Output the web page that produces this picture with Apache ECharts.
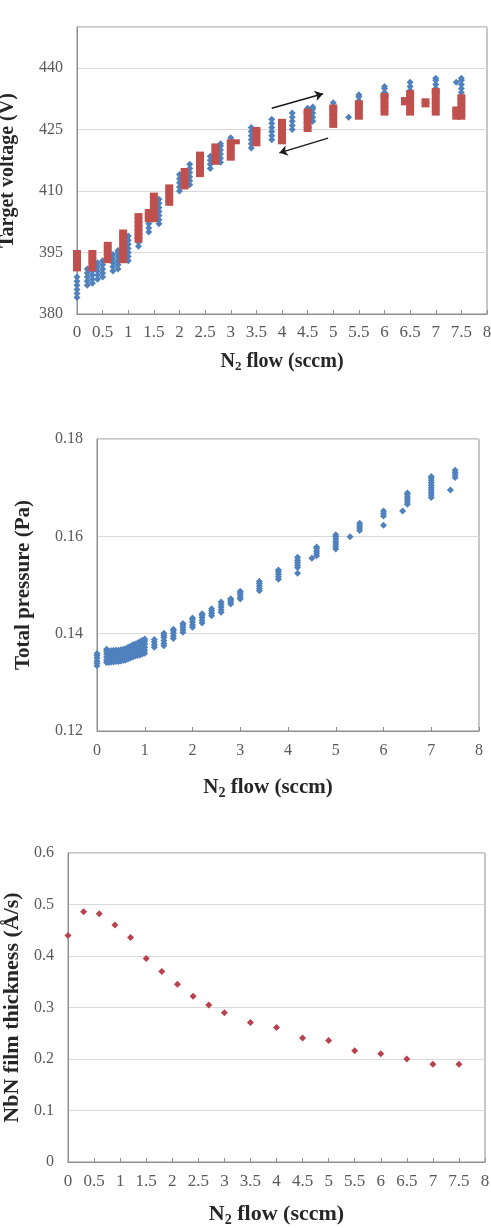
<!DOCTYPE html>
<html>
<head>
<meta charset="utf-8">
<script src="https://cdn.jsdelivr.net/npm/echarts@6/dist/echarts.min.js"></script>
<style>
  html, body { margin: 0; padding: 0; background: #fff; }
  #chart { width: 491px; height: 1228px; }
</style>
</head>
<body>
<div id="chart"></div>
<script>
// top panel: target voltage, blue = increasing flow, red = decreasing flow
const voltUpFlow = [0, 0.2, 0.3, 0.4, 0.5, 0.7, 0.8, 1.0, 1.2, 1.4, 1.6, 2.0, 2.2, 2.6, 2.8, 3.0, 3.4, 3.8, 4.2, 4.5, 4.6, 5.0, 5.3, 5.5, 6.0, 6.5, 7.0, 7.4, 7.5];
const voltUp = [
  [384, 385, 386, 387, 388, 389],
  [387, 388, 389, 390, 391],
  [387.5, 388.5, 389.5, 390.5, 391.5],
  [388.5, 389.5, 390.5, 391.5, 392.5],
  [389, 390, 391, 392, 393],
  [390.5, 391.5, 392.5, 393.5, 394.5],
  [391, 392, 393, 394, 395, 395.5],
  [393, 394, 395, 396, 397, 398, 399],
  [396.5, 397.5],
  [400, 401, 402, 403, 404],
  [402, 403, 404, 405, 406, 407, 408],
  [410, 411, 412, 413, 414],
  [411.5, 412.5, 413.5, 414.5, 415.5, 416.5],
  [415.5, 416.5, 417.5, 418.5],
  [417, 418, 419, 420, 421, 421.5],
  [423],
  [420.5, 421.5, 422.5, 423.5, 424.5, 425.5],
  [422.5, 423.5, 424.5, 425.5, 426.5, 427.5],
  [425, 426, 427, 428, 429],
  [429.5, 430.2],
  [427, 428, 429, 430, 430.5],
  [431.5],
  [428],
  [432, 433, 433.5],
  [434, 435, 435.5],
  [434.5, 435.5, 436.5],
  [435, 436, 437, 437.5],
  [436.5],
  [434, 435, 436, 437, 437.5]
];
const voltDownFlow = [0, 0.3, 0.6, 0.9, 1.2, 1.4, 1.5, 1.8, 2.1, 2.4, 2.7, 3.0, 3.1, 3.5, 4.0, 4.5, 5.0, 5.5, 6.0, 6.4, 6.5, 6.8, 7.0, 7.4, 7.5];
const voltDown = [
  [391, 392, 393, 394, 395],
  [391, 392, 393, 394, 395],
  [393, 394, 395, 396, 397],
  [393, 394, 395, 396, 397, 398, 399, 400],
  [398, 399, 400, 401, 402, 403, 404],
  [403, 404, 405],
  [403, 404, 405, 406, 407, 408, 409],
  [407, 408, 409, 410, 411],
  [411, 412, 413, 414, 415],
  [414, 415, 416, 417, 418, 419],
  [417, 418, 419, 420, 421],
  [418, 419, 420, 421, 422],
  [422],
  [421.5, 422.5, 423.5, 424.5, 425],
  [422, 423, 424, 425, 426, 427],
  [425, 426, 427, 428, 429, 429.5],
  [426, 427, 428, 429, 430, 430.5],
  [428, 429, 430, 431, 431.5],
  [429, 430, 431, 432, 433, 433.3],
  [431.5, 432.3],
  [429, 430, 431, 432, 433, 434],
  [431, 432],
  [429, 430, 431, 432, 433, 434, 434.5],
  [428, 429, 430],
  [428, 429, 430, 431, 432, 433]
];
// hysteresis arrows [from, to] in (flow, voltage)
const arrowPaths = [
  [[3.8, 430.2], [4.8, 433.7]],
  [[4.9, 422.9], [3.95, 419.3]]
];

// middle panel: total pressure
const pressFlow = [0, 0.2, 0.25, 0.3, 0.35, 0.4, 0.45, 0.5, 0.55, 0.6, 0.65, 0.7, 0.75, 0.8, 0.85, 0.9, 0.95, 1.0,
  1.2, 1.4, 1.6, 1.8, 2.0, 2.2, 2.4, 2.6, 2.8, 3.0, 3.4, 3.8, 4.2, 4.5, 4.6, 5.0, 5.3, 5.5, 6.0, 6.4, 6.5, 7.0, 7.4, 7.5];
const pressVals = [
  [0.1334, 0.1339, 0.1344, 0.1350, 0.1355, 0.1359],
  [0.1341, 0.1346, 0.1352, 0.1358, 0.1364, 0.1368],
  [0.1341, 0.1347, 0.1353, 0.1359, 0.1365],
  [0.1342, 0.1347, 0.1353, 0.1359, 0.1365],
  [0.1342, 0.1348, 0.1354, 0.1360, 0.1366],
  [0.1343, 0.1348, 0.1354, 0.1360, 0.1366],
  [0.1343, 0.1349, 0.1355, 0.1361, 0.1366],
  [0.1344, 0.1350, 0.1356, 0.1362, 0.1367],
  [0.1345, 0.1351, 0.1357, 0.1363, 0.1368],
  [0.1346, 0.1352, 0.1358, 0.1364, 0.1369],
  [0.1348, 0.1354, 0.1360, 0.1366, 0.1372],
  [0.1350, 0.1356, 0.1362, 0.1368, 0.1374],
  [0.1352, 0.1358, 0.1364, 0.1370, 0.1377],
  [0.1354, 0.1360, 0.1366, 0.1372, 0.1379],
  [0.1355, 0.1361, 0.1367, 0.1374, 0.1381],
  [0.1356, 0.1362, 0.1369, 0.1376, 0.1384],
  [0.1358, 0.1364, 0.1371, 0.1378, 0.1386],
  [0.1360, 0.1366, 0.1372, 0.1379, 0.1385, 0.1389],
  [0.1372, 0.1377, 0.1383, 0.1388],
  [0.1375, 0.1380, 0.1386, 0.1392, 0.1397, 0.1401],
  [0.1390, 0.1395, 0.1401, 0.1406, 0.1409],
  [0.1403, 0.1408, 0.1413, 0.1418, 0.1421],
  [0.1413, 0.1418, 0.1424, 0.1429, 0.1432],
  [0.1422, 0.1427, 0.1433, 0.1438, 0.1441],
  [0.1437, 0.1442, 0.1447, 0.1451],
  [0.1444, 0.1449, 0.1455, 0.1460, 0.1465],
  [0.1461, 0.1465, 0.1469, 0.1472],
  [0.1471, 0.1475, 0.1480, 0.1484, 0.1487],
  [0.1488, 0.1493, 0.1498, 0.1503, 0.1507],
  [0.1512, 0.1517, 0.1522, 0.1527, 0.1531],
  [0.1524, 0.1536, 0.1541, 0.1546, 0.1551, 0.1557],
  [0.1555],
  [0.1560, 0.1565, 0.1570, 0.1575, 0.1578],
  [0.1574, 0.1579, 0.1584, 0.1589, 0.1594, 0.1599, 0.1603],
  [0.1599],
  [0.1612, 0.1617, 0.1622, 0.1627],
  [0.1623, 0.1642, 0.1647, 0.1652],
  [0.1652],
  [0.1666, 0.1671, 0.1676, 0.1681, 0.1686, 0.1689],
  [0.1680, 0.1685, 0.1690, 0.1695, 0.1700, 0.1705, 0.1710, 0.1715, 0.1720, 0.1723],
  [0.1695],
  [0.1721, 0.1726, 0.1731, 0.1736]
];

// bottom panel: deposition rate
const rateFlow = [0, 0.3, 0.6, 0.9, 1.2, 1.5, 1.8, 2.1, 2.4, 2.7, 3.0, 3.5, 4.0, 4.5, 5.0, 5.5, 6.0, 6.5, 7.0, 7.5];
const rateVals = [0.440, 0.486, 0.482, 0.460, 0.436, 0.395, 0.370, 0.345, 0.322, 0.305, 0.290, 0.271, 0.261, 0.241, 0.236, 0.216, 0.210, 0.200, 0.190, 0.190];

const serif = '"Liberation Serif", "DejaVu Serif", serif';
const tickColor = '#595959';
const frame = '#8f8f8f';
const blue = '#4f81bd';
const red = '#c0504d';

const toPairs = (xs, groups) => xs.flatMap((x, i) => groups[i].map((v) => [x, v]));

const flowName = (size) => ({
  name: '{n|N}{s|2}{n| flow (sccm)}',
  nameLocation: 'middle',
  nameTextStyle: {
    rich: {
      n: { fontFamily: serif, fontWeight: 'bold', fontSize: size, color: '#262626' },
      s: { fontFamily: serif, fontWeight: 'bold', fontSize: Math.round(size * 0.65), color: '#262626', padding: [Math.round(size * 0.5), 0, 0, 0] }
    }
  }
});

const xAxisBase = (idx, interval, gap, size, labelSize) => ({
  type: 'value',
  gridIndex: idx,
  min: 0,
  max: 8,
  interval,
  nameGap: gap,
  ...flowName(size),
  axisLine: { show: true, lineStyle: { color: frame } },
  axisTick: { show: true, inside: true, length: 4, lineStyle: { color: frame } },
  splitLine: { show: false },
  axisLabel: { fontFamily: serif, fontSize: labelSize, color: tickColor, margin: 10 }
});

const yAxisBase = (idx, min, max, interval, name, gap, size) => ({
  type: 'value',
  gridIndex: idx,
  min,
  max,
  interval,
  name,
  nameLocation: 'middle',
  nameGap: gap,
  nameTextStyle: { fontFamily: serif, fontWeight: 'bold', fontSize: size, color: '#262626' },
  axisLine: { show: true, lineStyle: { color: frame } },
  axisTick: { show: false },
  splitLine: { show: true, lineStyle: { color: '#d9d9d9' } },
  axisLabel: { fontFamily: serif, fontSize: 16, color: tickColor, margin: 14 }
});

const chart = echarts.init(document.getElementById('chart'));

const topX = xAxisBase(0, 0.5, 36, 20, 17);
const midX = xAxisBase(1, 1, 44, 21, 16);
midX.nameTextStyle.padding = [0, 40, 0, 0];
midX.axisLabel.margin = 12;
const botX = xAxisBase(2, 0.5, 40, 22, 17);
botX.axisLabel.margin = 11;

const topY = yAxisBase(0, 380, 450, 15, 'Target voltage (V)', 59, 20);
topY.axisLabel.showMaxLabel = false;
const midY = yAxisBase(1, 0.12, 0.18, 0.02, 'Total pressure (Pa)', 63, 21);
const botY = yAxisBase(2, 0, 0.6, 0.1, 'NbN film thickness (Å/s)', 44, 22);

const gridBox = { show: true, borderColor: frame, borderWidth: 1, outerBoundsMode: 'none', containLabel: false };

chart.setOption({
  animation: false,
  backgroundColor: '#fff',
  grid: [
    { ...gridBox, left: 77, top: 27, width: 410, height: 287 },
    { ...gridBox, left: 97, top: 439, width: 382, height: 292 },
    { ...gridBox, left: 68, top: 853, width: 417, height: 309 }
  ],
  xAxis: [topX, midX, botX],
  yAxis: [topY, midY, botY],
  series: [
    {
      name: 'Increasing flow',
      type: 'scatter',
      xAxisIndex: 0,
      yAxisIndex: 0,
      symbol: 'diamond',
      symbolSize: [7, 7],
      itemStyle: { color: blue, opacity: 1 },
      data: toPairs(voltUpFlow, voltUp)
    },
    {
      name: 'Decreasing flow',
      type: 'scatter',
      xAxisIndex: 0,
      yAxisIndex: 0,
      symbol: 'rect',
      symbolSize: [8, 5],
      itemStyle: { color: red, opacity: 1 },
      data: toPairs(voltDownFlow, voltDown),
      markLine: {
        silent: true,
        animation: false,
        symbol: ['none', 'arrow'],
        symbolSize: 8,
        label: { show: false },
        lineStyle: { color: '#1a1a1a', width: 1.5, type: 'solid' },
        data: arrowPaths.map(([a, b]) => [{ coord: a }, { coord: b }])
      }
    },
    {
      name: 'Total pressure',
      type: 'scatter',
      xAxisIndex: 1,
      yAxisIndex: 1,
      symbol: 'diamond',
      symbolSize: [7, 7],
      itemStyle: { color: blue, opacity: 1 },
      data: toPairs(pressFlow, pressVals)
    },
    {
      name: 'Rate',
      type: 'scatter',
      xAxisIndex: 2,
      yAxisIndex: 2,
      symbol: 'diamond',
      symbolSize: 7,
      itemStyle: { color: '#b8434e', opacity: 1 },
      data: rateFlow.map((x, i) => [x, rateVals[i]])
    }
  ]
});
</script>
</body>
</html>
